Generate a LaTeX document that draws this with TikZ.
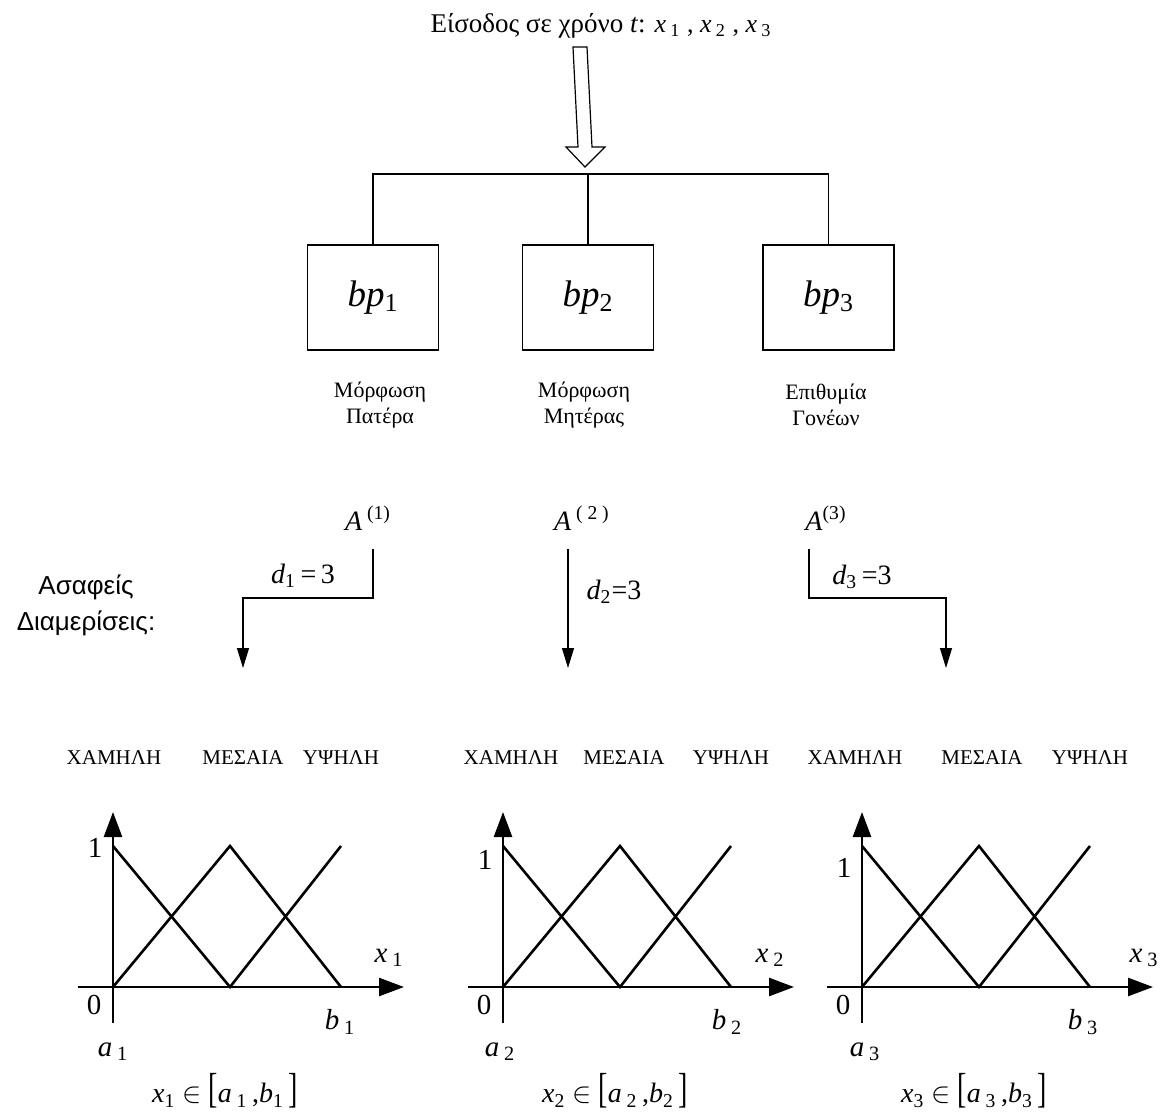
\documentclass[tikz,border=0pt]{standalone}
\usepackage{fontspec}
\usepackage{graphicx}
\setmainfont{Liberation Serif}
\newfontfamily\arialfont{Liberation Sans}
\usetikzlibrary{arrows.meta,positioning,calc}
\newcommand{\fsz}[1]{\fontsize{#1}{#1}\selectfont}

\begin{document}
\begin{tikzpicture}[x=0.5pt,y=-0.5pt,
		blockbox/.style={draw,line width=0.6pt,minimum width=65.5pt,minimum height=52.5pt,inner sep=0pt,font=\fsz{18.5}},
		wire/.style={line width=0.6pt},
		downarrow/.style={-{Triangle[width=6pt,length=10pt]}},
		axis/.style={line width=1.3pt,-{Triangle[width=9pt,length=12.5pt]}},
		mf/.style={line width=1.3pt},
		setname/.style={font=\fsz{10.5}},
		glabel/.style={font=\fsz{14.5}}]
		\useasboundingbox (0,0) rectangle (1163,1113);
		% input and the hollow arrow
		\node [anchor=base,font=\fsz{13.5}] (input) at (601,33) {Είσοδος σε χρόνο \textit{t}: {\fsz{13}\textit{x}\,\textsubscript{1} , \textit{x}\,\textsubscript{2} , \textit{x}\,\textsubscript{3}}};
		\draw [wire,fill=white] (573,47) -- (587,47) -- (592,147) -- (605,147) -- (585,167) -- (566,147) -- (578,147) -- cycle;
		\coordinate (split) at (588,174);
		% blocks
		\node [blockbox] (bp1) at (373,297.5) {\textit{bp}\textsubscript{1}};
		\node [blockbox] (bp2) at (588,297.5) {\textit{bp}\textsubscript{2}};
		\node [blockbox] (bp3) at (828.5,297.5) {\textit{bp}\textsubscript{3}};
		\draw [wire] (bp1.north) -- (bp1.north |- split) -- (bp3.north |- split) -- (bp3.north);
		\draw [wire] (split) -- (bp2.north);
		\node [font=\fontsize{11}{13}\selectfont,align=center] (lab1) at (380,405) {Μόρφωση\\Πατέρα};
		\node [font=\fontsize{11}{13}\selectfont,align=center] (lab2) at (584,405) {Μόρφωση\\Μητέρας};
		\node [font=\fontsize{11}{13}\selectfont,align=center] (lab3) at (826,405) {Επιθυμία\\Γονέων};
		% partitions
		\node [font=\fsz{14}] (A1) at (368,518) {\textit{A}\,\textsuperscript{(1)}};
		\node [font=\fsz{14}] (A2) at (582,518) {\textit{A}\,\textsuperscript{( 2 )}};
		\node [font=\fsz{14}] (A3) at (826,518) {\textit{A}\textsuperscript{(3)}};
		\coordinate (s1) at (373,549);
		\coordinate (e1) at (243,668);
		\coordinate (s2) at (568,549);
		\coordinate (e2) at (568,668);
		\coordinate (s3) at (809,549);
		\coordinate (e3) at (946,668);
		\draw [wire,downarrow] (s1) -- ++(0,49) -| (e1);
		\draw [wire,downarrow] (s2) -- (e2);
		\draw [wire,downarrow] (s3) -- ++(0,49) -| (e3);
		\node [font=\fsz{14}] (d1) at (303,576) {\textit{d}\textsubscript{1}\,=\,3};
		\node [font=\fsz{14}] (d2) at (614,592) {\textit{d}\textsubscript{2}=3};
		\node [font=\fsz{14}] (d3) at (862,577) {\textit{d}\textsubscript{3}\,=3};
		\node [font=\arialfont\fontsize{13}{18}\selectfont,align=center] (fuzzy) at (86,605) {Ασαφείς\\Διαμερίσεις:};
		% membership functions
		\foreach \gx/\gi/\lo/\me/\oy/\xl/\bl/\al in {113/1/1/130/848/276/227/0,503/2/8/121/860/267/224/-3,862/3/-7/120/868/282/221/3} {
			\draw [axis] (\gx,1023) -- (\gx,812);
			\draw [axis] (\gx-35,987) -- (\gx+291,987);
			\draw [mf] (\gx,846) -- (\gx+117,987) -- (\gx+228,846);
			\draw [mf] (\gx,987) -- (\gx+117,846) -- (\gx+228,987);
			\node [setname] (low\gi) at (\gx+\lo,758) {ΧΑΜΗΛΗ};
			\node [setname] (mid\gi) at (\gx+\me,758) {ΜΕΣΑΙΑ};
			\node [setname] (high\gi) at (\gx+228,758) {ΥΨΗΛΗ};
			\node [glabel] (one\gi) at (\gx-18,\oy) {1};
			\node [glabel] (zero\gi) at (\gx-19,1005) {0};
			\node [glabel] (xl\gi) at (\gx+\xl,958) {\textit{x}\,\textsubscript{\gi}};
			\node [glabel] (bl\gi) at (\gx+\bl,1022) {\textit{b}\,\textsubscript{\gi}};
			\node [glabel] (al\gi) at (\gx+\al,1052) {\textit{a}\,\textsubscript{\gi}};
			\node [font=\fsz{14}] (range\gi) at (\gx+112,1091) {\textit{x}\textsubscript{\gi}\ $\in$\ \scalebox{1}[1.5]{[}\textit{a}\,\textsubscript{\gi}\,,\textit{b}\textsubscript{\gi}\,\scalebox{1}[1.5]{]}};
		}
	\end{tikzpicture}
\end{document}
